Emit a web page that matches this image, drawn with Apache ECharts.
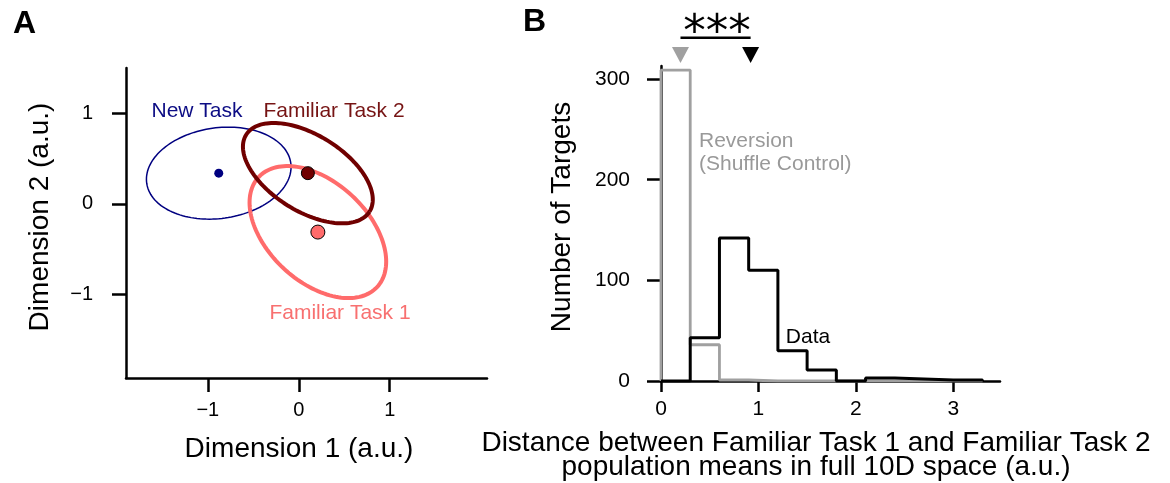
<!DOCTYPE html>
<html>
<head>
<meta charset="utf-8">
<title>Familiar vs new task population means</title>
<script src="https://cdn.jsdelivr.net/npm/echarts@6.0.0/dist/echarts.min.js"></script>
<style>
    html, body { margin: 0; padding: 0; background: #fff; }
    #chart { width: 1170px; height: 483px; }
</style>
</head>
<body>
<div id="chart"></div>
<script>
    // A: mean + covariance ellipse of each task (dims 1 and 2)
    const taskNames = ['New Task', 'Familiar Task 1', 'Familiar Task 2'];
    const meanX = [-0.88, 0.21, 0.10];
    const meanY = [0.34, -0.31, 0.34];
    const semiMajor = [0.80, 0.89, 0.80];
    const semiMinor = [0.50, 0.55, 0.42];
    const tiltDeg = [8, -43, -32];

    // B: histograms, bins of 0.3
    const binEdges = [0, 0.3, 0.6, 0.9, 1.2, 1.5, 1.8, 2.1, 2.4, 2.7, 3.0, 3.3];
    const dataCounts = [0, 43, 142, 110, 30, 11, 0, 3, 2, 1, 1];
    const shuffleCounts = [309, 36, 1, 0, 0, 0, 0, 0, 0, 0, 0];
    const shuffleMean = 0.2;
    const dataMean = 0.92;

    const xTicksA = [-1, 0, 1];
    const yTicksA = [-1, 0, 1];
    const xTicksB = [0, 1, 2, 3];
    const yTicksB = [0, 100, 200, 300];

    // styling
    const font = "'Liberation Sans', Arial, Helvetica, sans-serif";
    const taskColors = ['#000080', '#ff6b6b', '#700000'];
    const textColors = ['#0c0c84', '#f87070', '#761414'];
    const ringWidths = [1.5, 4, 4];
    const dotSizes = [9, 14, 13];
    const gray = '#a0a0a0';
    const markerLevel = 324;   // triangles sit above the plot
    const barLevel = 341;

    const minus = v => String(v).replace('-', '\u2212');

    const stepPoints = counts => {
        let pts = [[binEdges[0], 0]];
        counts.forEach((c, i) => pts.push([binEdges[i], c]));
        pts.push([binEdges[counts.length], 0]);
        return pts;
    };

    const axisBase = (gridIndex, ticks, tickLen, labelSize, margin) => ({
        gridIndex,
        type: 'value',
        nameLocation: 'middle',
        nameTextStyle: {fontSize: 28, color: '#000', fontFamily: font},
        axisLine: {onZero: false, lineStyle: {color: '#000', width: 2.5}},
        axisTick: {length: tickLen, customValues: ticks, lineStyle: {color: '#000', width: 2.5}},
        axisLabel: {customValues: ticks, formatter: minus, fontSize: labelSize, margin, color: '#000', fontFamily: font},
        splitLine: {show: false}
    });

    const ellipseData = taskNames.map((n, i) => [meanX[i], meanY[i], semiMajor[i], semiMinor[i], tiltDeg[i]]);

    const renderEllipse = (params, api) => {
        let cx = api.value(0), cy = api.value(1), a = api.value(2), b = api.value(3);
        let t = api.value(4) * Math.PI / 180;
        let pts = [];
        for (let k = 0; k <= 144; k++) {
            let s = k / 144 * 2 * Math.PI;
            let dx = a * Math.cos(s), dy = b * Math.sin(s);
            pts.push(api.coord([cx + dx * Math.cos(t) - dy * Math.sin(t), cy + dx * Math.sin(t) + dy * Math.cos(t)]));
        }
        return {
            type: 'polyline',
            shape: {points: pts},
            style: {fill: null, stroke: taskColors[params.dataIndex], lineWidth: ringWidths[params.dataIndex]}
        };
    };

    const text = (str, x, y, size, color, extra) => Object.assign({
        type: 'text', x, y,
        style: {text: str, fontSize: size, fontFamily: font, fill: color, align: 'center', verticalAlign: 'middle'}
    }, extra || {});

    let option = {
        animation: false,
        backgroundColor: '#fff',
        grid: [
            {left: 126, top: 68, width: 361, height: 310, outerBoundsMode: 'none'},
            {left: 661, top: 66, width: 339, height: 315, outerBoundsMode: 'none'}
        ],
        xAxis: [
            Object.assign(axisBase(0, xTicksA, 14, 20, 22), {
                min: -1.9, max: 2.07, name: 'Dimension 1 (a.u.)', nameGap: 57
            }),
            Object.assign(axisBase(1, xTicksB, 11, 21, 18), {
                min: 0, max: 3.48,
                name: 'Distance between Familiar Task 1 and Familiar Task 2\npopulation means in full 10D space (a.u.)',
                nameGap: 50
            })
        ],
        yAxis: [
            Object.assign(axisBase(0, yTicksA, 14, 20, 33), {
                min: -1.92, max: 1.5, name: 'Dimension 2 (a.u.)', nameGap: 72
            }),
            Object.assign(axisBase(1, yTicksB, 14, 21, 31), {
                min: 0, max: 313, name: 'Number of Targets', nameGap: 85
            })
        ],
        graphic: [
            text('A', 13, 24, 32, '#000', {}),
            text('B', 523, 22, 32, '#000', {}),
            text(taskNames[0], 197, 111, 21, textColors[0]),
            text(taskNames[2], 334, 111, 21, textColors[2]),
            text(taskNames[1], 340, 313, 21, textColors[1]),
            text('Reversion\n(Shuffle Control)', 699, 130, 21, '#999'),
            text('Data', 808, 337, 21, '#000'),
            text('***', 717, 34, 45, '#000')
        ],
        series: [
            {
                type: 'custom',
                xAxisIndex: 0, yAxisIndex: 0,
                data: ellipseData,
                encode: {x: 0, y: 1},
                renderItem: renderEllipse,
                z: 2
            },
            {
                type: 'scatter',
                xAxisIndex: 0, yAxisIndex: 0,
                data: taskNames.map((n, i) => ({
                    value: [meanX[i], meanY[i]],
                    symbolSize: dotSizes[i],
                    itemStyle: {
                        color: taskColors[i], opacity: 1,
                        borderColor: i ? '#000' : taskColors[i], borderWidth: i ? 1 : 0
                    }
                })),
                z: 5
            },
            {
                type: 'line',
                xAxisIndex: 1, yAxisIndex: 1,
                step: 'end',
                data: stepPoints(shuffleCounts),
                symbol: 'none',
                lineStyle: {color: gray, width: 2.8},
                z: 2
            },
            {
                type: 'line',
                xAxisIndex: 1, yAxisIndex: 1,
                step: 'end',
                data: stepPoints(dataCounts),
                symbol: 'none',
                lineStyle: {color: '#000', width: 3},
                z: 3
            },
            {
                type: 'scatter',
                xAxisIndex: 1, yAxisIndex: 1,
                clip: false,
                symbol: 'triangle',
                symbolRotate: 180,
                symbolSize: [17, 16],
                data: [
                    {value: [shuffleMean, markerLevel], itemStyle: {color: gray, opacity: 1}},
                    {value: [dataMean, markerLevel], itemStyle: {color: '#000', opacity: 1}}
                ]
            },
            {
                type: 'line',
                xAxisIndex: 1, yAxisIndex: 1,
                clip: false,
                symbol: 'none',
                data: [[shuffleMean, barLevel], [dataMean, barLevel]],
                lineStyle: {color: '#000', width: 2.5}
            }
        ]
    };

    // fix text styles of panel letters and two-line labels
    option.graphic[0].style.fontWeight = 'bold';
    option.graphic[0].style.align = 'left';
    option.graphic[1].style.fontWeight = 'bold';
    option.graphic[1].style.align = 'left';
    option.graphic[5].style.align = 'left';
    option.graphic[5].style.verticalAlign = 'top';
    option.graphic[5].style.lineHeight = 23;
    option.graphic[7].style.fontFamily = "'DejaVu Sans', sans-serif";
    option.xAxis[0].nameTextStyle.padding = [0, 15, 0, 0];
    option.xAxis[1].nameTextStyle.padding = [0, 29, 0, 0];
    option.xAxis[1].nameTextStyle.lineHeight = 24;
    option.yAxis[0].nameTextStyle.padding = [0, 0, 0, 12];
    option.yAxis[1].nameTextStyle.padding = [0, 0, 0, 13];

    let chart = echarts.init(document.getElementById('chart'));
    chart.setOption(option);
</script>
</body>
</html>
